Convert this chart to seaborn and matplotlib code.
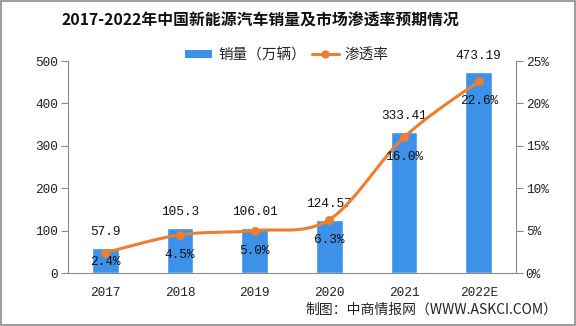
import numpy as np
import pandas as pd
import matplotlib
matplotlib.use("Agg")
import matplotlib.pyplot as plt
import seaborn as sns
from matplotlib.patches import Rectangle, Patch
from matplotlib.lines import Line2D

years = ["2017", "2018", "2019", "2020", "2021", "2022E"]
sales = [57.9, 105.3, 106.01, 124.57, 333.41, 473.19]
sales_labels = ["57.9", "105.3", "106.01", "124.57", "333.41", "473.19"]
rate = [2.4, 4.5, 5.0, 6.3, 16.0, 22.6]
rate_labels = ["2.4%", "4.5%", "5.0%", "6.3%", "16.0%", "22.6%"]

sns.set_theme(style="white")
plt.rcParams['font.family'] = ['Noto Sans CJK SC', 'DejaVu Sans']

BAR = "#3D91E8"
LINE = "#ED7D31"
GREY = "#8C8C8C"
NUMFONT = ['Liberation Mono', 'DejaVu Sans Mono']
NUMSIZE = 9.2

fig = plt.figure(figsize=(5.76, 3.26), dpi=100)
ax = fig.add_axes([68/576, 1-273/326, (516-68)/576, (273-61)/326])

df = pd.DataFrame({"year": years, "sales": sales})
sns.barplot(data=df, x="year", y="sales", color=BAR, width=0.36, ax=ax, saturation=1)
ax.set_xlim(-0.5, 5.5)
ax.set_ylim(0, 500)
ax.set_yticks(range(0, 501, 100))
ax.set_xlabel("")
ax.set_ylabel("")
for s in ["top", "right"]:
    ax.spines[s].set_visible(False)
for s in ["left", "bottom"]:
    ax.spines[s].set_color(GREY)
    ax.spines[s].set_linewidth(0.8)
ax.set_xticks(np.arange(-0.5, 6, 1), minor=True)
ax.set_xticks(range(6))
ax.set_xticklabels(years)
ax.tick_params(axis="x", which="major", length=0, pad=10, labelcolor="#222222")
ax.tick_params(axis="x", which="minor", length=5, color=GREY, direction="out", width=0.8)
ax.tick_params(axis="y", length=5, color=GREY, direction="out", width=0.8,
               labelcolor="#222222", pad=2)
for t in ax.get_xticklabels() + ax.get_yticklabels():
    t.set_family(NUMFONT)
    t.set_fontsize(NUMSIZE)
ax.grid(False)

for i, (v, lab) in enumerate(zip(sales, sales_labels)):
    ax.annotate(lab, (i, v), xytext=(0, 11.5), textcoords="offset points",
                ha="center", va="center", fontsize=NUMSIZE, family=NUMFONT, color="#111111")

ax2 = ax.twinx()
ax2.set_ylim(0, 25)
ax2.set_yticks(range(0, 26, 5))
ax2.set_yticklabels([f"{v}%" for v in range(0, 26, 5)])
for s in ["top", "left", "bottom"]:
    ax2.spines[s].set_visible(False)
ax2.spines["right"].set_color(GREY)
ax2.spines["right"].set_linewidth(0.8)
ax2.tick_params(axis="y", length=5, color=GREY, direction="out", width=0.8,
                labelcolor="#222222", pad=2)
for t in ax2.get_yticklabels():
    t.set_family(NUMFONT)
    t.set_fontsize(NUMSIZE)
ax2.grid(False)

# smooth line (Bezier smoothing through the data points, like a smoothed line chart)
xs = np.arange(len(rate), dtype=float)
ys = np.array(rate, dtype=float)
px, py = [], []
t = np.linspace(0, 1, 30)
for i in range(len(xs) - 1):
    p0 = np.array([xs[max(i-1, 0)], ys[max(i-1, 0)]])
    p1 = np.array([xs[i], ys[i]])
    p2 = np.array([xs[i+1], ys[i+1]])
    p3 = np.array([xs[min(i+2, len(xs)-1)], ys[min(i+2, len(xs)-1)]])
    c1 = p1 + (p2 - p0) / 6
    c2 = p2 - (p3 - p1) / 6
    seg = ((1-t)**3)[:, None]*p1 + (3*(1-t)**2*t)[:, None]*c1 + (3*(1-t)*t**2)[:, None]*c2 + (t**3)[:, None]*p2
    px.extend(seg[:, 0]); py.extend(seg[:, 1])
ax2.plot(px, py, color=LINE, lw=2.2, solid_capstyle="round", zorder=3)
sns.scatterplot(x=xs, y=ys, color=LINE, s=36, edgecolor=LINE, ax=ax2, zorder=4, legend=False)

# percentage labels below the markers, kept above the axis
px_per_unit = 212 / 25
for i, (v, lab) in enumerate(zip(rate, rate_labels)):
    yl = max(v - 20 / px_per_unit, 11 / px_per_unit)
    ax2.text(i, yl, lab, ha="center", va="center", fontsize=NUMSIZE,
             family=NUMFONT, color="#111111", zorder=5)

fig.text(260/576, 1-20/326, "2017-2022年中国新能源汽车销量及市场渗透率预期情况",
         ha="center", va="center", fontsize=11.4, fontweight="bold", color="#111111")

handles = [Patch(facecolor=BAR, edgecolor="none"),
           Line2D([0], [0], color=LINE, lw=2.2, marker="o", markersize=5)]
fig.legend(handles, ["销量（万辆）", "渗透率"], loc="center", bbox_to_anchor=(287/576, 1-55/326),
           ncol=2, frameon=False, fontsize=10.5, handlelength=1.85, columnspacing=0.4,
           handletextpad=0.4, handleheight=0.5)

fig.text(557/576, 1-310/326, "制图：中商情报网（WWW.ASKCI.COM）", ha="right", va="center",
         fontsize=10, color="#222222")

fig.patches.append(Rectangle((0.001, 0.002), 0.997, 0.995, transform=fig.transFigure,
                             fill=False, edgecolor="#8C8C8C", lw=1.2))

fig.savefig("out.png", dpi=100)
